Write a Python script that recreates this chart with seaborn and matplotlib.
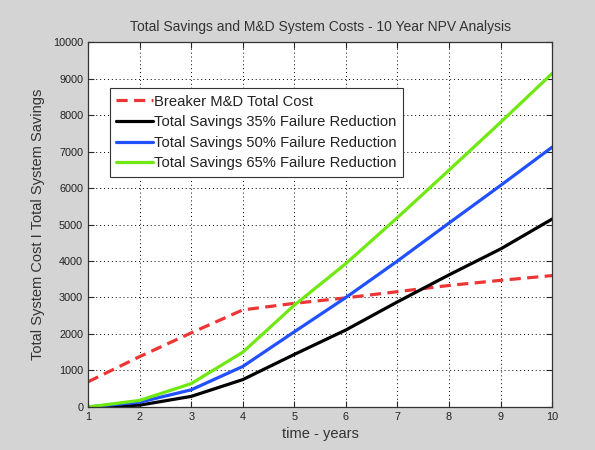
import numpy as np
import pandas as pd
import seaborn as sns
from matplotlib import pyplot as plt

# valores
anos = [1, 2, 3, 4, 5, 6, 7, 8, 9, 10]
custo_md = [690, 1380, 2030, 2660, 2840, 2990, 3160, 3330, 3470, 3600]
economia_35 = [0, 50, 290, 750, 1440, 2110, 2880, 3620, 4330, 5150]
economia_50 = [0, 130, 470, 1110, 2060, 3000, 4000, 5040, 6070, 7120]
economia_65 = [0, 180, 640, 1500, 2790, 3930, 5190, 6490, 7800, 9140]

nomes = ['Breaker M&D Total Cost',
         'Total Savings 35% Failure Reduction',
         'Total Savings 50% Failure Reduction',
         'Total Savings 65% Failure Reduction']
series = [custo_md, economia_35, economia_50, economia_65]
cores = ['#ee3535', '#000000', '#2050ff', '#70e812']

sns.set_style('white')
plt.rcParams['font.family'] = ['Liberation Sans', 'DejaVu Sans']

fig = plt.figure(figsize=(5.95, 4.5), dpi=100, facecolor='#d4d4d4')
ax = fig.add_axes([0.148, 0.0956, 0.78, 0.811])

for nome, valores, cor in zip(nomes, series, cores):
    df = pd.DataFrame({'ano': anos, 'valor': valores})
    ls = (0, (3.5, 2)) if nome.startswith('Breaker') else '-'
    sns.lineplot(data=df, x='ano', y='valor', ax=ax, color=cor, linewidth=2.3,
                 linestyle=ls, label=nome)

ax.set_xlim(1, 10)
ax.set_ylim(0, 10000)
ax.set_xticks(range(1, 11))
ax.set_yticks(range(0, 10001, 1000))
ax.grid(True, linestyle=(0, (1, 3)), color='black', linewidth=0.7)
ax.tick_params(direction='in', length=4, labelsize=7.8, top=True, right=True,
               bottom=True, left=True, width=0.8, labelcolor='#222222')
for s in ax.spines.values():
    s.set_color('#333333')
    s.set_linewidth(0.9)

ax.set_title('Total Savings and M&D System Costs - 10 Year NPV Analysis',
             fontsize=10, color='#333333', pad=8)
ax.set_xlabel('time - years', fontsize=10.5, color='#333333')
ax.set_ylabel('Total System Cost I Total System Savings', fontsize=10.5,
              color='#333333', labelpad=6)

leg = ax.legend(loc='upper left', bbox_to_anchor=(0.047, 0.873), fontsize=10.6,
                frameon=True, fancybox=False, framealpha=1, edgecolor='#333333',
                handlelength=2.5, handletextpad=0.1, borderpad=0.42,
                labelspacing=0.45, borderaxespad=0)
leg.get_frame().set_linewidth(0.8)
for t in leg.get_texts():
    t.set_color('#222222')

fig.savefig('out.png', dpi=100, facecolor=fig.get_facecolor())
